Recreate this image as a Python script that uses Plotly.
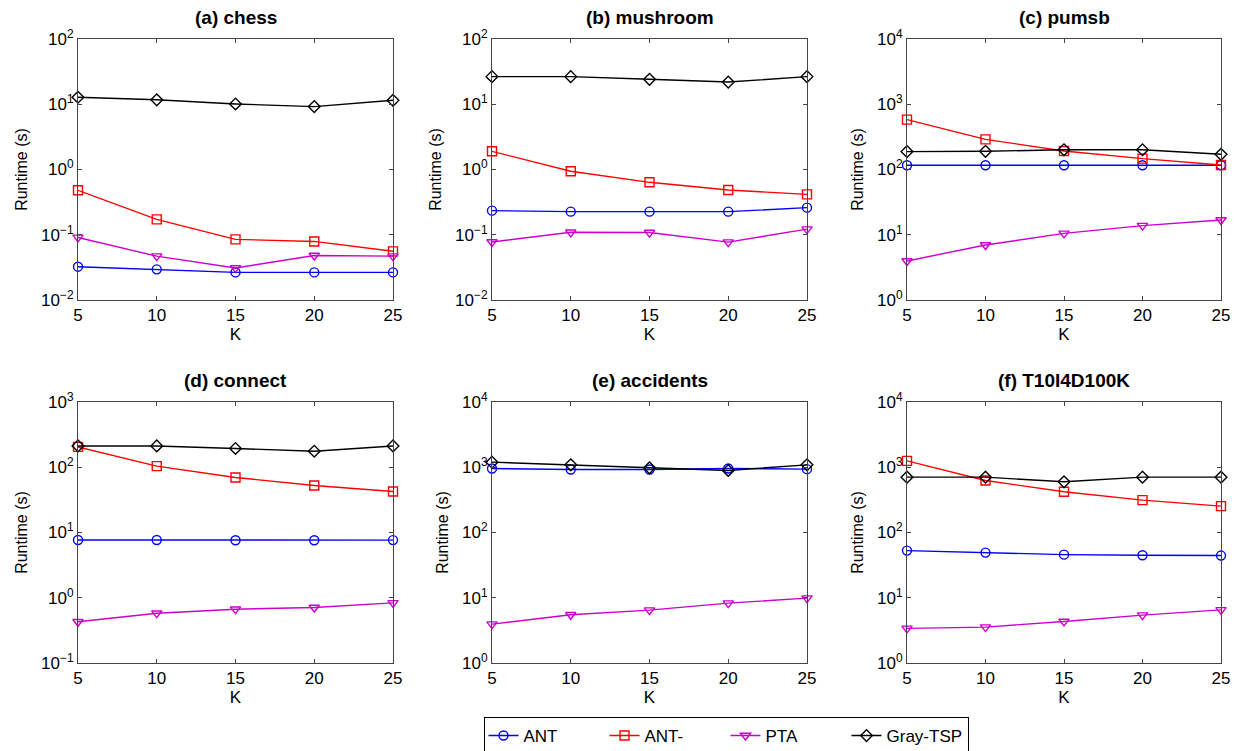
import plotly.graph_objects as go

K = [5, 10, 15, 20, 25]
series_names = ["ANT", "ANT-", "PTA", "Gray-TSP"]
colors = ["#0000ff", "#ff0000", "#cc00cc", "#000000"]
symbols = ["circle-open", "square-open", "triangle-down-open", "diamond-open"]

titles = ["(a) chess", "(b) mushroom", "(c) pumsb", "(d) connect", "(e) accidents", "(f) T10I4D100K"]

# runtime values per dataset (ANT, ANT-, PTA, Gray-TSP)
chess_ant = [0.0324, 0.0295, 0.0265, 0.0265, 0.0265]
chess_antm = [0.48, 0.172, 0.085, 0.079, 0.0557]
chess_pta = [0.091, 0.047, 0.031, 0.048, 0.047]
chess_gray = [12.8, 11.7, 10.1, 9.2, 11.5]

mush_ant = [0.234, 0.226, 0.226, 0.226, 0.26]
mush_antm = [1.90, 0.94, 0.636, 0.485, 0.416]
mush_pta = [0.0775, 0.109, 0.108, 0.077, 0.122]
mush_gray = [26.5, 26.5, 24.1, 21.9, 26.5]

pumsb_ant = [116, 116, 116, 116, 116]
pumsb_antm = [581, 290, 192, 147, 117]
pumsb_pta = [3.96, 6.97, 10.5, 13.8, 16.8]
pumsb_gray = [188, 190, 201, 201, 171]

conn_ant = [7.68, 7.68, 7.6, 7.6, 7.65]
conn_antm = [205, 104, 69.7, 52.6, 42.6]
conn_pta = [0.428, 0.58, 0.668, 0.709, 0.836]
conn_gray = [212, 212, 194, 176, 212]

acc_ant = [957, 924, 924, 957, 935]
acc_antm = [None, None, None, None, None]
acc_pta = [3.94, 5.48, 6.46, 8.26, 9.86]
acc_gray = [1197, 1089, 980, 892, 1089]

t10_ant = [52.8, 49.2, 45.8, 44.8, 44.3]
t10_antm = [1253, 627, 421, 314, 254]
t10_pta = [3.39, 3.55, 4.33, 5.41, 6.53]
t10_gray = [705, 705, 598, 705, 705]

datasets = [
    [chess_ant, chess_antm, chess_pta, chess_gray],
    [mush_ant, mush_antm, mush_pta, mush_gray],
    [pumsb_ant, pumsb_antm, pumsb_pta, pumsb_gray],
    [conn_ant, conn_antm, conn_pta, conn_gray],
    [acc_ant, acc_antm, acc_pta, acc_gray],
    [t10_ant, t10_antm, t10_pta, t10_gray],
]
y_exp_ranges = [(-2, 2), (-2, 2), (0, 4), (-1, 3), (0, 4), (0, 4)]

W, H = 1240, 751
col_px = [(78, 393), (492, 807), (907, 1221)]
row_px = [(39, 300), (402, 663)]

FONT = "Liberation Sans, Arial, Helvetica, sans-serif"

fig = go.Figure()
layout_axes = {}
annotations = []
for i in range(6):
    r, c = divmod(i, 3)
    xn = "" if i == 0 else str(i + 1)
    x0, x1 = col_px[c]
    y0, y1 = row_px[r]
    xdom = [x0 / W, x1 / W]
    ydom = [1 - y1 / H, 1 - y0 / H]
    lo, hi = y_exp_ranges[i]
    tv = [10 ** e for e in range(lo, hi + 1)]
    tt = [("10<sup>%s</sup>" % (str(e).replace("-", "\u2212"))) for e in range(lo, hi + 1)]
    axcommon = dict(showline=True, linecolor="#444", linewidth=1, mirror="ticks",
                    ticks="inside", ticklen=4, tickcolor="#444", showgrid=False, zeroline=False,
                    automargin=False,
                    tickfont=dict(family=FONT, size=17, color="black"))
    layout_axes["xaxis" + xn] = dict(domain=xdom, anchor="y" + xn, range=[5, 25],
                                     tickvals=K, ticktext=[str(k) for k in K],
                                     title=dict(text="K", font=dict(family=FONT, size=17, color="black"), standoff=0),
                                     **axcommon)
    layout_axes["yaxis" + xn] = dict(domain=ydom, anchor="x" + xn, type="log", range=[lo, hi],
                                     tickvals=tv, ticktext=tt,
                                     title=dict(text="Runtime (s)", font=dict(family=FONT, size=16, color="black"), standoff=9),
                                     **axcommon)
    annotations.append(dict(text="<b>%s</b>" % titles[i], x=(x0 + x1) / 2 / W, y=1 - (y0 - 22) / H,
                            xref="paper", yref="paper", showarrow=False, xanchor="center", yanchor="middle",
                            font=dict(family=FONT, size=19, color="black")))
    for s in range(4):
        ys = datasets[i][s]
        fig.add_trace(go.Scatter(
            x=K, y=ys, mode="lines+markers", name=series_names[s],
            line=dict(color=colors[s], width=1.4),
            marker=dict(symbol=symbols[s], size=9, color=colors[s], line=dict(width=1.4, color=colors[s])),
            xaxis="x" + xn, yaxis="y" + xn, showlegend=(i == 0), legendgroup=series_names[s],
            cliponaxis=False,
        ))

fig.update_layout(
    template="none",
    width=W, height=H, margin=dict(l=0, r=0, t=0, b=0, autoexpand=False),
    paper_bgcolor="white", plot_bgcolor="white",
    font=dict(family=FONT, color="black"),
    annotations=annotations,
    legend=dict(orientation="h", x=726 / W, xanchor="center", y=1 - 717 / H, yanchor="top",
                bordercolor="black", borderwidth=1, bgcolor="white",
                font=dict(family=FONT, size=17, color="black"),
                entrywidth=76, entrywidthmode="pixels",
                tracegroupgap=0),
    **layout_axes,
)
fig.write_html("out.html", config={"displayModeBar": False},
               post_script="document.body.style.margin='0px';document.body.style.padding='0px';document.body.style.overflow='hidden';")
